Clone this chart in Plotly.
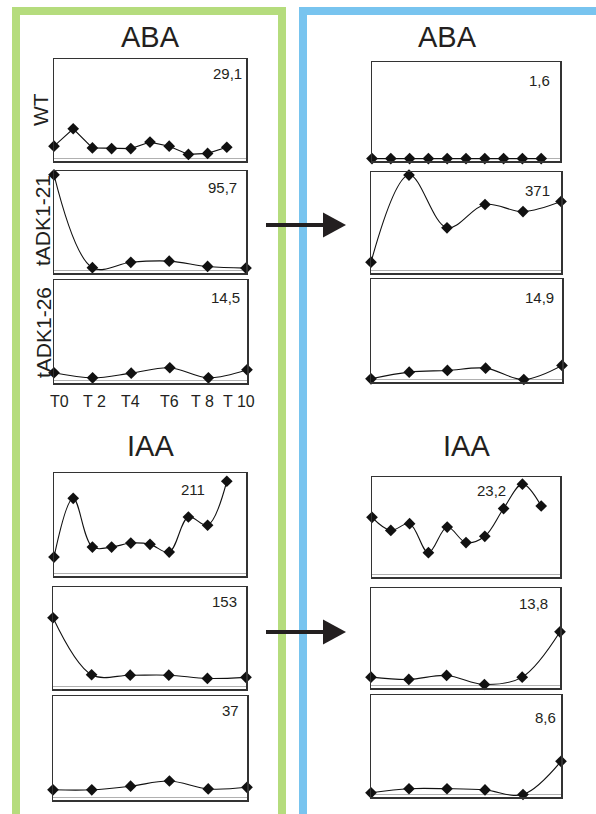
import plotly.graph_objects as go

W, H = 596, 814

# ---------------- data ----------------
time_10 = [0, 1, 2, 3, 4, 5, 6, 7, 8, 9]
time_6 = [0, 2, 4, 6, 8, 10]
tick_labels = ["T0", "T 2", "T4", "T6", "T 8", "T 10"]
row_labels = ["WT", "tADK1-21", "tADK1-26"]
hormones = ["ABA", "IAA"]

# ABA, left (before)
aba_wt_left = [3.6, 8.7, 3.1, 2.9, 2.9, 4.8, 3.6, 1.2, 1.5, 3.3]
aba_21_left = [92.0, 2.7, 7.9, 9.0, 3.9, 2.3]
aba_26_left = [1.12, 0.39, 1.06, 1.84, 0.39, 1.55]
# ABA, right (after)
aba_wt_right = [0.0, 0.0, 0.0, 0.0, 0.0, 0.0, 0.0, 0.0, 0.0, 0.0]
aba_21_right = [31.5, 359.5, 161.0, 248.6, 222.0, 260.0]
aba_26_right = [0.1, 1.09, 1.34, 1.68, 0.0, 2.09]
# IAA, left
iaa_1_left = [34.4, 157.8, 55.5, 55.5, 63.9, 61.2, 44.9, 118.6, 101.3, 193.7]
iaa_2_left = [105.7, 18.1, 17.4, 17.4, 12.4, 14.1]
iaa_3_left = [2.8, 2.8, 4.1, 6.0, 3.1, 3.7]
# IAA, right
iaa_1_right = [13.6, 10.5, 12.1, 5.2, 11.3, 7.6, 9.1, 15.7, 21.5, 16.3]
iaa_2_right = [1.19, 0.87, 1.43, 0.15, 1.19, 7.6]
iaa_3_right = [0.15, 0.5, 0.5, 0.4, 0.0, 2.87]

scale_labels = ["29,1", "95,7", "14,5", "1,6", "371", "14,9",
                "211", "153", "37", "23,2", "13,8", "8,6"]
scale_values = [29.1, 95.7, 14.5, 1.6, 371, 14.9, 211, 153, 37, 23.2, 13.8, 8.6]

# ---------------- layout helpers ----------------
def px(x):
    return x / W

def py(y):
    return 1 - y / H

FONT = "Liberation Sans, Arial, sans-serif"
TXT = "#231f20"

panels = [
    dict(x=time_10, y=aba_wt_left, box=(54, 246, 59, 161), lab=(244, 73), shape="linear"),
    dict(x=time_6, y=aba_21_left, box=(54, 246, 171, 273), lab=(239, 187), shape="spline"),
    dict(x=time_6, y=aba_26_left, box=(54, 247, 280, 383), lab=(242, 297), shape="spline"),
    dict(x=time_10, y=aba_wt_right, box=(372, 560, 62, 161), lab=(552, 80), shape="linear"),
    dict(x=time_6, y=aba_21_right, box=(371, 561, 172, 273), lab=(552, 190), shape="spline"),
    dict(x=time_6, y=aba_26_right, box=(371, 562, 279, 382), lab=(556, 297), shape="spline"),
    dict(x=time_10, y=iaa_1_left, box=(54, 246, 473, 576), lab=(207, 489), shape="spline"),
    dict(x=time_6, y=iaa_2_left, box=(53, 246, 587, 689), lab=(239, 601), shape="spline"),
    dict(x=time_6, y=iaa_3_left, box=(53, 247, 696, 800), lab=(241, 710), shape="spline"),
    dict(x=time_10, y=iaa_1_right, box=(372, 560, 477, 577), lab=(508, 490), shape="spline"),
    dict(x=time_6, y=iaa_2_right, box=(371, 560, 588, 688), lab=(550, 603), shape="spline"),
    dict(x=time_6, y=iaa_3_right, box=(371, 561, 695, 797), lab=(558, 717), shape="spline"),
]

fig = go.Figure()
annotations = []
shapes = []

for i, p in enumerate(panels):
    n = i + 1
    xa = "xaxis" if n == 1 else f"xaxis{n}"
    ya = "yaxis" if n == 1 else f"yaxis{n}"
    xr = "x" if n == 1 else f"x{n}"
    yr = "y" if n == 1 else f"y{n}"
    x0, x1, y0, y1 = p["box"]
    L = scale_values[i]
    fig.add_trace(go.Scatter(
        x=p["x"], y=p["y"], xaxis=xr, yaxis=yr,
        mode="lines+markers",
        line=dict(color="#111111", width=1.1, shape=p["shape"], smoothing=1.0),
        marker=dict(symbol="diamond", size=9, color="#111111"),
        cliponaxis=False, showlegend=False, hoverinfo="skip",
    ))
    xaxis = dict(domain=[px(x0), px(x1)], range=[0, 10], anchor=yr,
                 showgrid=False, zeroline=False, showticklabels=False, ticks="",
                 showline=True, mirror=True, linecolor="#333333", linewidth=1.5)
    yaxis = dict(domain=[py(y1), py(y0)], range=[-0.025 * L, L], anchor=xr,
                 showgrid=False, zeroline=True, zerolinecolor="#b0b0b0", zerolinewidth=1.5,
                 showticklabels=False, ticks="",
                 showline=True, mirror=True, linecolor="#333333", linewidth=1.5)
    fig.update_layout(**{xa: xaxis, ya: yaxis})
    lx, ly = p["lab"]
    annotations.append(dict(text=scale_labels[i], xref="paper", yref="paper",
                            x=px(lx), y=py(ly), xanchor="right", yanchor="middle",
                            showarrow=False, font=dict(family=FONT, size=15, color=TXT)))

for txt, cx, cy in [(hormones[0], 150, 37), (hormones[0], 447, 37),
                    (hormones[1], 150, 446), (hormones[1], 466, 446)]:
    annotations.append(dict(text=txt, xref="paper", yref="paper", x=px(cx), y=py(cy),
                            xanchor="center", yanchor="middle", showarrow=False,
                            font=dict(family=FONT, size=29, color=TXT)))

for txt, cx, cy in zip(row_labels, [41, 42, 43], [110, 221, 333]):
    annotations.append(dict(text=txt, xref="paper", yref="paper", x=px(cx), y=py(cy),
                            xanchor="center", yanchor="middle", textangle=-90, showarrow=False,
                            font=dict(family=FONT, size=21, color=TXT)))

tick_pos = [0.3, 2.1, 3.95, 6.0, 7.7, 9.6]
for txt, tx in zip(tick_labels, tick_pos):
    annotations.append(dict(text=txt, xref="x3", yref="paper", x=tx, y=py(401),
                            xanchor="center", yanchor="middle", showarrow=False,
                            font=dict(family=FONT, size=16, color=TXT)))

shapes.append(dict(type="rect", xref="paper", yref="paper",
                   x0=px(16), x1=px(282), y0=py(11), y1=py(840),
                   line=dict(color="#b5dc7d", width=8), fillcolor="rgba(0,0,0,0)", layer="below"))
shapes.append(dict(type="rect", xref="paper", yref="paper",
                   x0=px(303), x1=px(640), y0=py(11), y1=py(840),
                   line=dict(color="#78c4ef", width=8), fillcolor="rgba(0,0,0,0)", layer="below"))

for ay in [225, 632]:
    shapes.append(dict(type="line", xref="paper", yref="paper",
                       x0=px(266), x1=px(325), y0=py(ay), y1=py(ay),
                       line=dict(color=TXT, width=4)))
    shapes.append(dict(type="path", xref="paper", yref="paper",
                       path=f"M {px(323)} {py(ay - 12.5)} L {px(346)} {py(ay)} L {px(323)} {py(ay + 12.5)} Z",
                       fillcolor=TXT, line=dict(color=TXT, width=0)))

fig.update_layout(width=W, height=H, margin=dict(l=0, r=0, t=0, b=0),
                  paper_bgcolor="white", plot_bgcolor="white",
                  annotations=annotations, shapes=shapes, showlegend=False)

fig.write_html("out.html", config={"displayModeBar": False, "staticPlot": True},
               post_script="document.body.style.margin='0';document.body.style.overflow='hidden';")
